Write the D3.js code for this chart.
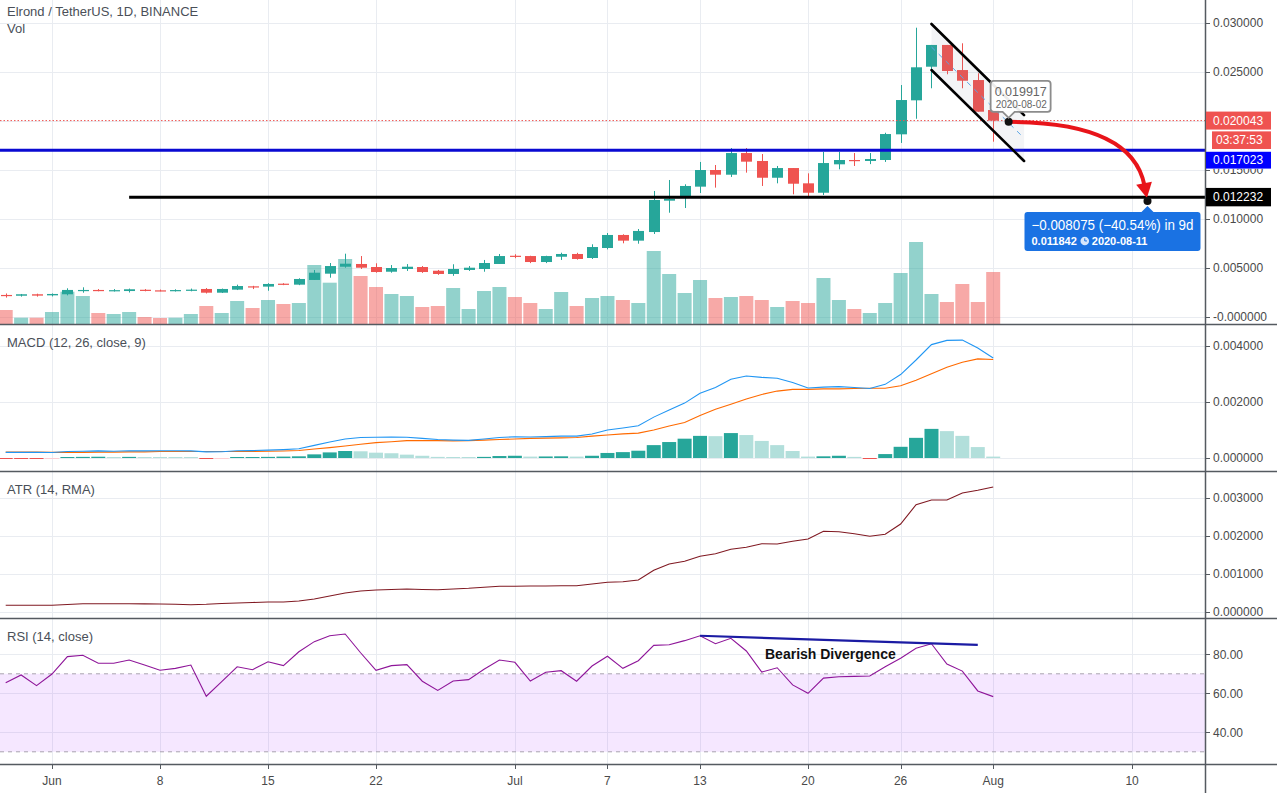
<!DOCTYPE html>
<html>
<head>
<meta charset="utf-8">
<script src="https://cdn.jsdelivr.net/npm/d3@7/dist/d3.min.js"></script>
<style>
html,body{margin:0;padding:0;background:#fff;overflow:hidden}
svg{display:block}
text{font-family:"Liberation Sans",Arial,sans-serif}
</style>
</head>
<body>
<svg id="chart" width="1277" height="793"></svg>
<script>
// ---------------- DATA ----------------
const dates = ["2020-05-29","2020-05-30","2020-05-31",
"2020-06-01","2020-06-02","2020-06-03","2020-06-04","2020-06-05","2020-06-06","2020-06-07","2020-06-08","2020-06-09","2020-06-10",
"2020-06-11","2020-06-12","2020-06-13","2020-06-14","2020-06-15","2020-06-16","2020-06-17","2020-06-18","2020-06-19","2020-06-20",
"2020-06-21","2020-06-22","2020-06-23","2020-06-24","2020-06-25","2020-06-26","2020-06-27","2020-06-28","2020-06-29","2020-06-30",
"2020-07-01","2020-07-02","2020-07-03","2020-07-04","2020-07-05","2020-07-06","2020-07-07","2020-07-08","2020-07-09","2020-07-10",
"2020-07-11","2020-07-12","2020-07-13","2020-07-14","2020-07-15","2020-07-16","2020-07-17","2020-07-18","2020-07-19","2020-07-20",
"2020-07-21","2020-07-22","2020-07-23","2020-07-24","2020-07-25","2020-07-26","2020-07-27","2020-07-28","2020-07-29","2020-07-30",
"2020-07-31","2020-08-01"];

const open  = [.00225,.00217,.00232,.00221,.00232,.00270,.00276,.00268,.00265,.00278,.00272,.00268,.00268,.00286,.00248,.00279,.00313,.00310,.00340,.00330,.00378,.00442,.00513,.00541,.00510,.00462,.00490,.00510,.00472,.00439,.00480,.00490,.00541,.00625,.00622,.00561,.00615,.00643,.00602,.00704,.00837,.00779,.00867,.01187,.01228,.01330,.01500,.01452,.01673,.01592,.01421,.01520,.01364,.01268,.01558,.01602,.01592,.01602,.01864,.02211,.02554,.02776,.02520,.02418,.02112];
const high  = [.00240,.00235,.00238,.00240,.00293,.00303,.00285,.00285,.00290,.00285,.00280,.00283,.00290,.00295,.00290,.00330,.00318,.00345,.00345,.00395,.00480,.00551,.00646,.00622,.00548,.00530,.00540,.00520,.00480,.00538,.00520,.00582,.00643,.00640,.00625,.00625,.00656,.00655,.00742,.00857,.00844,.00898,.01286,.01398,.01354,.01582,.01551,.01724,.01724,.01663,.01541,.01520,.01466,.01684,.01684,.01673,.01673,.01880,.02367,.02952,.02776,.02776,.02793,.02487,.02112];
const low   = [.00198,.00208,.00208,.00210,.00221,.00248,.00262,.00260,.00250,.00262,.00262,.00260,.00262,.00240,.00245,.00275,.00285,.00268,.00325,.00325,.00378,.00401,.00503,.00490,.00452,.00452,.00470,.00450,.00430,.00420,.00470,.00462,.00541,.00600,.00550,.00550,.00582,.00585,.00592,.00690,.00752,.00748,.00847,.01064,.01112,.01265,.01320,.01429,.01473,.01337,.01364,.01252,.01221,.01245,.01507,.01541,.01560,.01582,.01776,.02023,.02334,.02477,.02334,.02095,.01789];
const close = [.00215,.00232,.00218,.00235,.00276,.00276,.00270,.00274,.00283,.00270,.00268,.00275,.00279,.00248,.00286,.00316,.00306,.00337,.00334,.00388,.00452,.00520,.00544,.00503,.00459,.00500,.00513,.00459,.00439,.00490,.00503,.00551,.00622,.00618,.00561,.00622,.00643,.00592,.00714,.00837,.00779,.00878,.01194,.01207,.01337,.01500,.01452,.01673,.01585,.01421,.01520,.01360,.01268,.01571,.01602,.01592,.01612,.01867,.02214,.02548,.02776,.02510,.02411,.02095,.02004];
const volume = [14,6.3,6.3,12,32.3,28,11,10,12,7,6,6.3,10,18,11,23,16,24,20,21,59,41.3,65,48,37,30,28,17,18,36,15,33,37,27,21,15,32,18,26,28,24,21,73,50,31,44,26,27,28,24,17,23,21,46,24,15,11,21,51,82,30,22,40,22,52];

const macd   = [0.00020,0.00020,0.00020,0.000195,0.00023,0.00024,0.000255,0.00024,0.00026,0.000255,0.00026,0.000258,0.000255,0.00022,0.000225,0.00026,0.000265,0.00028,0.00030,0.00033,0.00045,0.00057,0.00068,0.00073,0.00074,0.00075,0.00074,0.00070,0.00066,0.00064,0.00063,0.00068,0.00073,0.00076,0.00075,0.000765,0.00078,0.00078,0.00086,0.00100,0.00107,0.00115,0.00146,0.00171,0.00196,0.00231,0.00252,0.00281,0.00293,0.00288,0.00285,0.00270,0.00250,0.00253,0.00255,0.00252,0.00248,0.00263,0.00298,0.00350,0.00405,0.00420,0.00421,0.00393,0.00357];
const signal = [0.00021,0.00021,0.00021,0.00020,0.00020,0.00020,0.00021,0.00021,0.00022,0.00022,0.00023,0.00023,0.00023,0.00023,0.00023,0.00023,0.00023,0.00024,0.00025,0.00027,0.00032,0.00037,0.00043,0.00049,0.00055,0.00058,0.00062,0.00062,0.00062,0.00061,0.00062,0.00064,0.00066,0.00068,0.00070,0.00071,0.00072,0.00073,0.00078,0.00082,0.00086,0.00089,0.00100,0.00114,0.00127,0.00152,0.00174,0.00192,0.00211,0.00227,0.00239,0.00245,0.00245,0.00247,0.00247,0.00248,0.00249,0.00249,0.00258,0.00278,0.00301,0.00324,0.00342,0.00354,0.00352];
const hist   = [-0.00001,-0.00001,-0.000012,-0.000005,0.00003,0.00004,0.000045,0.00003,0.00004,0.000035,0.00003,0.000028,0.000025,-0.00001,-0.000005,0.00003,0.000035,0.00004,0.00005,0.00006,0.00013,0.0002,0.00025,0.00024,0.00019,0.00017,0.00012,0.00008,0.00004,0.00003,0.00001,0.00004,0.00007,0.00008,0.00005,0.000055,0.00006,0.00005,0.00008,0.00018,0.00021,0.00026,0.00046,0.00057,0.00069,0.00079,0.00078,0.00089,0.00082,0.00061,0.00046,0.00025,0.00005,0.00006,0.00008,0.00004,-0.00001,0.00014,0.0004,0.00072,0.00104,0.00096,0.00079,0.00039,0.00005];
const atr    = [0.000163,0.000163,0.000163,0.000165,0.000184,0.000205,0.000205,0.000205,0.000205,0.0002,0.000197,0.00019,0.000179,0.00019,0.00021,0.000224,0.000237,0.00025,0.00025,0.000276,0.000329,0.000408,0.000487,0.00054,0.000566,0.000579,0.000592,0.000579,0.000574,0.000592,0.00061,0.000637,0.000663,0.000666,0.000671,0.000671,0.000676,0.000679,0.000724,0.000768,0.000784,0.000829,0.001084,0.00125,0.001321,0.001453,0.001521,0.001637,0.001689,0.001784,0.001776,0.001847,0.001908,0.00211,0.0021,0.002047,0.001979,0.002032,0.002303,0.00281,0.002934,0.002934,0.003118,0.00319,0.003276];
const rsi    = [65.4,69.4,63.9,69.9,78.8,79.5,75.4,75.4,77.1,74.5,71.8,72.8,74.5,58.5,66,73.6,72.1,76.2,74.2,81.3,86.5,89.5,90.4,80.8,71.8,74.2,74.7,66.2,61.5,66.3,67,72.3,77.1,75.9,66.3,70.8,71.6,66.2,74,79,72.8,76.7,84.6,84.9,87,89.5,85.4,88.2,81.7,70.9,73.1,64.3,60,67.8,68.5,68.7,68.9,73.6,78,83.1,85.4,75,71.4,61.2,58.3];

// axis ticks
const timeTickDates  = ["2020-06-01","2020-06-08","2020-06-15","2020-06-22","2020-07-01","2020-07-07","2020-07-13","2020-07-20","2020-07-26","2020-08-01","2020-08-10"];
const timeTickLabels = ["Jun","8","15","22","Jul","7","13","20","26","Aug","10"];
const priceTicks  = [0,0.005,0.010,0.015,0.020,0.025,0.030];
const priceLabels = ["-0.000000","0.005000","0.010000","0.015000","0.020000","0.025000","0.030000"];
const macdTicks  = [0,0.002,0.004];
const macdLabels = ["0.000000","0.002000","0.004000"];
const atrTicks  = [0,0.001,0.002,0.003];
const atrLabels = ["0.000000","0.001000","0.002000","0.003000"];
const rsiTicks  = [40,60,80];
const rsiLabels = ["40.00","60.00","80.00"];

// drawings
const lastPrice = 0.020043;
const countdown = "03:37:53";
const blueLevel = 0.017023;
const blackLevel = {from:"2020-06-06", price:0.012232};
const channelUpper = [["2020-07-28",0.0299],["2020-08-03",0.0206]];
const channelLower = [["2020-07-28",0.0252],["2020-08-03",0.01592]];
const arrowStart = ["2020-08-02",0.019917];
const arrowCtrl  = ["2020-08-10",0.0199];
const arrowEnd   = ["2020-08-11",0.011842];
const divergence = [["2020-07-13",89.5],["2020-07-31",84.8]];
const projText1 = "\u22120.008075 (\u221240.54%) in 9d";
const projPrice = "0.011842";
const projDate = "2020-08-11";

// ---------------- CHART ----------------
const svg = d3.select("#chart");
const AX = 1205;
const pd = d3.utcParse("%Y-%m-%d");
const D = dates.map(pd);
const idx = d3.range(dates.length);

const x = d3.scaleUtc().domain([D[0], D[D.length-1]]).range([5.7, 993.2]);
const yP = d3.scaleLinear().domain([0,0.03]).range([317,23]);
const yV = d3.scaleLinear().domain([0,82]).range([324,242]);
const yM = d3.scaleLinear().domain([0,0.004]).range([458,346]);
const yA = d3.scaleLinear().domain([0,0.003]).range([611.5,497.5]);
const yR = d3.scaleLinear().domain([40,80]).range([732.3,654.3]);

const panes = {main:[0,324], macd:[325,471], atr:[472,618], rsi:[619,764]};
const defs = svg.append("defs");
Object.entries(panes).forEach(([k,[a,b]])=>{
  defs.append("clipPath").attr("id","clip-"+k).append("rect").attr("x",0).attr("y",a).attr("width",AX).attr("height",b-a);
});
defs.append("clipPath").attr("id","clip-lbl15").append("rect").attr("x",AX).attr("y",yP(blueLevel)+18.5).attr("width",72).attr("height",20);

svg.append("rect").attr("width",1277).attr("height",793).attr("fill","#fff");

const GRID = "#e9ecf1";
// vertical grid
svg.append("g").selectAll("line").data(timeTickDates).join("line")
  .attr("x1",d=>Math.round(x(pd(d)))+0.5).attr("x2",d=>Math.round(x(pd(d)))+0.5)
  .attr("y1",0).attr("y2",764).attr("stroke",GRID);

function hgrid(ticks, scale){
  svg.append("g").selectAll("line").data(ticks).join("line")
    .attr("x1",0).attr("x2",AX).attr("y1",d=>Math.round(scale(d))+0.5).attr("y2",d=>Math.round(scale(d))+0.5)
    .attr("stroke",GRID);
}
hgrid(priceTicks,yP); hgrid(macdTicks,yM); hgrid(atrTicks,yA); hgrid(rsiTicks,yR);

// ---- main pane ----
const gm = svg.append("g").attr("clip-path","url(#clip-main)");
const up = i => close[i] >= open[i];
gm.selectAll("rect.vol").data(idx).join("rect")
  .attr("x",i=>x(D[i])-7).attr("width",14)
  .attr("y",i=>yV(volume[i])).attr("height",i=>yV(0)-yV(volume[i]))
  .attr("fill",i=>up(i)?"rgba(38,166,154,0.5)":"rgba(239,83,80,0.5)");

const cCol = i => up(i) ? "#26a69a" : "#ef5350";
gm.selectAll("line.wick").data(idx).join("line")
  .attr("x1",i=>Math.round(x(D[i]))+0.5).attr("x2",i=>Math.round(x(D[i]))+0.5)
  .attr("y1",i=>yP(high[i])).attr("y2",i=>yP(low[i]))
  .attr("stroke",cCol).attr("stroke-width",1);
gm.selectAll("rect.body").data(idx).join("rect")
  .attr("x",i=>Math.round(x(D[i]))-5).attr("width",11)
  .attr("y",i=>yP(Math.max(open[i],close[i])))
  .attr("height",i=>Math.max(1.2,Math.abs(yP(open[i])-yP(close[i]))))
  .attr("fill",cCol);

// last price dotted line
gm.append("line").attr("x1",0).attr("x2",AX).attr("y1",yP(lastPrice)).attr("y2",yP(lastPrice))
  .attr("stroke","#ef5350").attr("stroke-width",1).attr("stroke-dasharray","1.5,2");

// horizontal levels
gm.append("line").attr("x1",0).attr("x2",AX).attr("y1",yP(blueLevel)).attr("y2",yP(blueLevel))
  .attr("stroke","#0a0ad2").attr("stroke-width",3);
gm.append("line").attr("x1",x(pd(blackLevel.from))).attr("x2",AX).attr("y1",yP(blackLevel.price)).attr("y2",yP(blackLevel.price))
  .attr("stroke","#000").attr("stroke-width",3);

// channel
const pt = p => [x(pd(p[0])), yP(p[1])];
const u0=pt(channelUpper[0]), u1=pt(channelUpper[1]), l0=pt(channelLower[0]), l1=pt(channelLower[1]);
gm.append("path").attr("d",`M${u0}L${u1}L${l1}L${l0}Z`).attr("fill","rgba(120,128,150,0.09)");
gm.append("line").attr("x1",(u0[0]+l0[0])/2).attr("y1",(u0[1]+l0[1])/2).attr("x2",(u1[0]+l1[0])/2).attr("y2",(u1[1]+l1[1])/2)
  .attr("stroke","#5aa5e6").attr("stroke-width",1).attr("stroke-dasharray","5,5");
[[u0,u1],[l0,l1]].forEach(([a,b])=>{
  gm.append("line").attr("x1",a[0]).attr("y1",a[1]).attr("x2",b[0]).attr("y2",b[1])
    .attr("stroke","#000").attr("stroke-width",2.6).attr("stroke-linecap","round");
});

// arrow
const S = pt(arrowStart), C = pt(arrowCtrl), E = pt(arrowEnd);
const dx = E[0]-C[0], dy = E[1]-C[1], dl = Math.hypot(dx,dy), ux = dx/dl, uy = dy/dl;
const tip = [E[0]-ux*3, E[1]-uy*3];
const base = [tip[0]-ux*15, tip[1]-uy*15];
svg.append("path").attr("d",`M${S}Q${C} ${base[0]+ux*2},${base[1]+uy*2}`)
  .attr("fill","none").attr("stroke","#e8141a").attr("stroke-width",4).attr("stroke-linecap","round");
svg.append("path").attr("d",`M${tip}L${base[0]-uy*8},${base[1]+ux*8}L${base[0]+uy*8},${base[1]-ux*8}Z`)
  .attr("fill","#e8141a");
svg.append("circle").attr("cx",S[0]).attr("cy",S[1]).attr("r",4).attr("fill","#111");
svg.append("circle").attr("cx",E[0]).attr("cy",E[1]).attr("r",4).attr("fill","#111");

// grey tooltip near start
const tb = {x:S[0]-18, y:S[1]-41, w:60, h:31};
svg.append("path")
  .attr("d",`M${tb.x+3},${tb.y}H${tb.x+tb.w-3}Q${tb.x+tb.w},${tb.y} ${tb.x+tb.w},${tb.y+3}V${tb.y+tb.h-3}Q${tb.x+tb.w},${tb.y+tb.h} ${tb.x+tb.w-3},${tb.y+tb.h}H${S[0]+6}L${S[0]},${tb.y+tb.h+6}L${S[0]-6},${tb.y+tb.h}H${tb.x+3}Q${tb.x},${tb.y+tb.h} ${tb.x},${tb.y+tb.h-3}V${tb.y+3}Q${tb.x},${tb.y} ${tb.x+3},${tb.y}Z`)
  .attr("fill","rgba(255,255,255,0.92)").attr("stroke","#8c8c8c").attr("stroke-width",1.8);
svg.append("text").attr("x",tb.x+4).attr("y",tb.y+15).attr("font-size",12.5).attr("fill","#666").text(arrowStart[1].toFixed(6));
svg.append("text").attr("x",tb.x+5).attr("y",tb.y+27).attr("font-size",10).attr("fill","#666").text(arrowStart[0]);

// blue projection box
const bb = {x:E[0]-123, y:E[1]+11, w:176, h:39};
svg.append("path")
  .attr("d",`M${bb.x+3},${bb.y}H${E[0]-6}L${E[0]},${bb.y-6}L${E[0]+6},${bb.y}H${bb.x+bb.w-3}Q${bb.x+bb.w},${bb.y} ${bb.x+bb.w},${bb.y+3}V${bb.y+bb.h-3}Q${bb.x+bb.w},${bb.y+bb.h} ${bb.x+bb.w-3},${bb.y+bb.h}H${bb.x+3}Q${bb.x},${bb.y+bb.h} ${bb.x},${bb.y+bb.h-3}V${bb.y+3}Q${bb.x},${bb.y} ${bb.x+3},${bb.y}Z`)
  .attr("fill","#1a72e3");
svg.append("text").attr("x",bb.x+7).attr("y",bb.y+18).attr("font-size",14).attr("fill","#fff")
  .attr("textLength",162).attr("lengthAdjust","spacingAndGlyphs").text(projText1);
const t2 = svg.append("text").attr("x",bb.x+7).attr("y",bb.y+33).attr("font-size",11).attr("font-weight","bold").attr("fill","#fff").text(projPrice);
const w2 = t2.node().getComputedTextLength();
const ccx = bb.x+7+w2+8, ccy = bb.y+29;
svg.append("circle").attr("cx",ccx).attr("cy",ccy).attr("r",4.3).attr("fill","#d6e6fb");
svg.append("path").attr("d",`M${ccx},${ccy-2.6}V${ccy}H${ccx+2.2}`).attr("stroke","#1a72e3").attr("stroke-width",1).attr("fill","none");
svg.append("text").attr("x",ccx+7).attr("y",bb.y+33).attr("font-size",11).attr("font-weight","bold").attr("fill","#fff").text(projDate);

// ---- MACD pane ----
const gM = svg.append("g").attr("clip-path","url(#clip-macd)");
const hCol = i => {
  const prev = i>0 ? hist[i-1] : hist[i];
  if (hist[i] >= 0) return hist[i] > prev ? "#26a69a" : "#b2dfdb";
  return hist[i] > prev ? "#ffcdd2" : "#ef5350";
};
gM.selectAll("rect.h").data(idx).join("rect")
  .attr("x",i=>x(D[i])-7).attr("width",14)
  .attr("y",i=>hist[i]>=0 ? Math.min(yM(hist[i]), yM(0)-1) : yM(0))
  .attr("height",i=>Math.max(1, Math.abs(yM(hist[i])-yM(0))))
  .attr("fill",hCol);
gM.append("path").datum(idx).attr("d",d3.line().x(i=>x(D[i])).y(i=>yM(signal[i])))
  .attr("fill","none").attr("stroke","#ff6a00").attr("stroke-width",1.1);
gM.append("path").datum(idx).attr("d",d3.line().x(i=>x(D[i])).y(i=>yM(macd[i])))
  .attr("fill","none").attr("stroke","#2196f3").attr("stroke-width",1.1);

// ---- ATR pane ----
svg.append("g").attr("clip-path","url(#clip-atr)").append("path").datum(idx)
  .attr("d",d3.line().x(i=>x(D[i])).y(i=>yA(atr[i])))
  .attr("fill","none").attr("stroke","#801922").attr("stroke-width",1.1);

// ---- RSI pane ----
const gR = svg.append("g").attr("clip-path","url(#clip-rsi)");
gR.append("rect").attr("x",0).attr("width",AX).attr("y",yR(70)).attr("height",yR(30)-yR(70)).attr("fill","rgba(153,21,255,0.1)");
[70,30].forEach(v=>gR.append("line").attr("x1",0).attr("x2",AX).attr("y1",yR(v)).attr("y2",yR(v))
  .attr("stroke","#a9a3b0").attr("stroke-dasharray","4,4"));
gR.append("path").datum(idx).attr("d",d3.line().x(i=>x(D[i])).y(i=>yR(rsi[i])))
  .attr("fill","none").attr("stroke","#8e1599").attr("stroke-width",1.1);
gR.append("line").attr("x1",x(pd(divergence[0][0]))).attr("y1",yR(divergence[0][1]))
  .attr("x2",x(pd(divergence[1][0]))).attr("y2",yR(divergence[1][1]))
  .attr("stroke","#1b1ba3").attr("stroke-width",2.2);
svg.append("text").attr("x",765).attr("y",659).attr("font-size",14).attr("font-weight","bold").attr("fill","#111").text("Bearish Divergence");

// ---- separators & axes ----
const SEP = "#555a60";
[324.5,471.5,618.5,764.5].forEach(y=>svg.append("line").attr("x1",0).attr("x2",1277).attr("y1",y).attr("y2",y).attr("stroke",SEP).attr("stroke-width",1.5));
svg.append("line").attr("x1",AX+0.5).attr("x2",AX+0.5).attr("y1",0).attr("y2",793).attr("stroke",SEP).attr("stroke-width",1.5);

function yAxis(ticks, labels, scale, skip){
  const g = svg.append("g");
  g.selectAll("line").data(ticks).join("line").attr("x1",AX).attr("x2",AX+5)
    .attr("y1",d=>Math.round(scale(d))+0.5).attr("y2",d=>Math.round(scale(d))+0.5).attr("stroke",SEP);
  g.selectAll("text").data(ticks.filter(d=>!(skip||[]).includes(d))).join("text").attr("x",AX+8).attr("y",d=>scale(d)+4.3)
    .attr("font-size",12).attr("fill","#4a4a4a").text(d=>labels[ticks.indexOf(d)]);
}
// 0.020000 is fully hidden by the last-price label; 0.015000 is partly hidden by the level label
yAxis(priceTicks,priceLabels,yP,[0.015,0.020]); yAxis(macdTicks,macdLabels,yM); yAxis(atrTicks,atrLabels,yA); yAxis(rsiTicks,rsiLabels,yR);
svg.append("text").attr("clip-path","url(#clip-lbl15)").attr("x",AX+8).attr("y",yP(0.015)+4.3)
  .attr("font-size",12).attr("fill","#4a4a4a").text(priceLabels[3]);

// time axis
const gt = svg.append("g");
gt.selectAll("line").data(timeTickDates).join("line")
  .attr("x1",d=>Math.round(x(pd(d)))+0.5).attr("x2",d=>Math.round(x(pd(d)))+0.5).attr("y1",765).attr("y2",769).attr("stroke",SEP);
gt.selectAll("text").data(timeTickDates).join("text")
  .attr("x",d=>x(pd(d))).attr("y",785).attr("text-anchor","middle")
  .attr("font-size",12).attr("fill","#4a4a4a").text((d,i)=>timeTickLabels[i]);

// price labels on axis
function pLabel(yc, h, fill, txt, x0, tx){
  svg.append("rect").attr("x",x0).attr("y",yc-h/2).attr("width",1271-x0).attr("height",h).attr("fill",fill);
  svg.append("text").attr("x",tx).attr("y",yc+4.3).attr("font-size",12).attr("fill","#fff").text(txt);
}
pLabel(yP(lastPrice), 18, "#ef5350", lastPrice.toFixed(6), AX+1, AX+8);
pLabel(yP(lastPrice)+19.6, 17.6, "#ef5350", countdown, AX+7, AX+11);
pLabel(yP(blueLevel)+10, 16.8, "#0000ff", blueLevel.toFixed(6), AX+1, AX+8);
pLabel(yP(blackLevel.price), 18.4, "#000", blackLevel.price.toFixed(6), AX+1, AX+8);

// titles
const TT = "#4a4f58";
svg.append("text").attr("x",7).attr("y",16).attr("font-size",13).attr("fill",TT).text("Elrond / TetherUS, 1D, BINANCE");
svg.append("text").attr("x",7).attr("y",33).attr("font-size",13).attr("fill",TT).text("Vol");
svg.append("text").attr("x",7).attr("y",347).attr("font-size",13).attr("fill",TT).text("MACD (12, 26, close, 9)");
svg.append("text").attr("x",7).attr("y",494).attr("font-size",13).attr("fill",TT).text("ATR (14, RMA)");
svg.append("text").attr("x",7).attr("y",641).attr("font-size",13).attr("fill",TT).text("RSI (14, close)");
</script>
</body>
</html>
